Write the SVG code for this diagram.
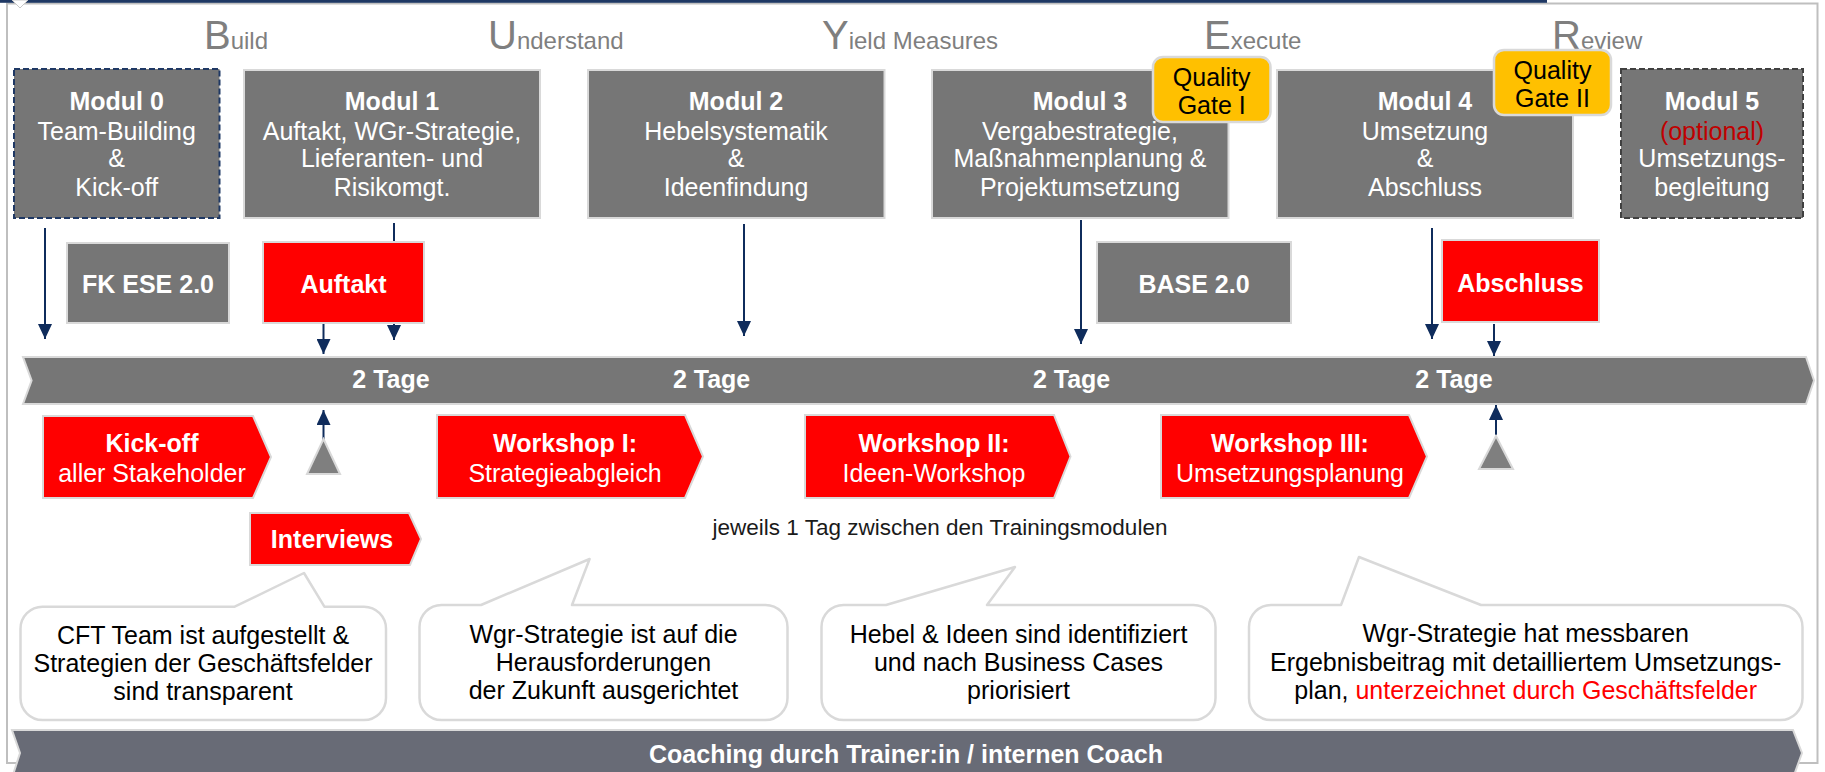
<svg xmlns="http://www.w3.org/2000/svg" width="1825" height="772" viewBox="0 0 1825 772">
  <defs>
    <style>
      text { font-family: "Liberation Sans", Arial, sans-serif; }
      .phase { font-size: 24px; fill: #7f7f7f; }
      .phase .cap { font-size: 40px; }
      .box { fill: #767676; stroke: #d9d9d9; stroke-width: 2; }
      .box-dash-navy { fill: #767676; stroke: #1f3864; stroke-width: 2; stroke-dasharray: 6 3; }
      .box-dash-dark { fill: #767676; stroke: #404040; stroke-width: 2; stroke-dasharray: 6 3; }
      .red { fill: #ff0000; stroke: #d9d9d9; stroke-width: 2; }
      .gate { fill: #ffc000; stroke: #d9d9d9; stroke-width: 2.5; }
      .bubble { fill: #ffffff; stroke: #d9d9d9; stroke-width: 2.5; stroke-linejoin: round; }
      .band { fill: #767676; stroke: #d9d9d9; stroke-width: 2; }
      .coach { fill: #686b76; stroke: #d9d9d9; stroke-width: 2; }
      .tri { fill: #7f7f7f; stroke: #d9d9d9; stroke-width: 2; }
      .wt { fill: #ffffff; font-size: 25px; text-anchor: middle; }
      .bt { fill: #000000; font-size: 25px; text-anchor: middle; }
      .b { font-weight: bold; }
      .opt { fill: #c00000; }
      .hl { fill: #ff0000; }
      .conn { stroke: #0f2c5c; stroke-width: 2; fill: none; marker-end: url(#head); }
    </style>
    <marker id="head" viewBox="0 0 15 14" refX="15" refY="7" markerWidth="15" markerHeight="14" markerUnits="userSpaceOnUse" orient="auto">
      <path d="M0,0 L15,7 L0,14 Z" fill="#0f2c5c"/>
    </marker>
  </defs>

  <rect width="1825" height="772" fill="#ffffff"/>

  <!-- frame -->
  <g id="frame">
    <rect x="7" y="3.5" width="1810.5" height="759.5" fill="none" stroke="#bfbfbf" stroke-width="2"/>
    <rect x="0" y="0" width="1547" height="2.8" fill="#1f3864"/>
    <path d="M12,0 L20,8 L28,0 Z" fill="#ffffff" stroke="#c8c8c8" stroke-width="1"/>
  </g>

  <!-- phase headings -->
  <g id="phases">
    <text class="phase" x="204" y="49"><tspan class="cap">B</tspan>uild</text>
    <text class="phase" x="488" y="49"><tspan class="cap">U</tspan>nderstand</text>
    <text class="phase" x="822" y="49"><tspan class="cap">Y</tspan>ield Measures</text>
    <text class="phase" x="1204" y="49"><tspan class="cap">E</tspan>xecute</text>
    <text class="phase" x="1552" y="49"><tspan class="cap">R</tspan>eview</text>
  </g>

  <!-- connectors -->
  <g id="connectors">
    <line class="conn" x1="45" y1="228" x2="45" y2="339"/>
    <line class="conn" x1="394" y1="223" x2="394" y2="340"/>
    <line class="conn" x1="744" y1="224" x2="744" y2="336"/>
    <line class="conn" x1="1081" y1="220" x2="1081" y2="344"/>
    <line class="conn" x1="1432" y1="228" x2="1432" y2="339"/>
    <line class="conn" x1="323.5" y1="323" x2="323.5" y2="354"/>
    <line class="conn" x1="1494" y1="324" x2="1494" y2="356"/>
    <line class="conn" x1="323.5" y1="440" x2="323.5" y2="410"/>
    <line class="conn" x1="1496" y1="435" x2="1496" y2="405"/>
  </g>

  <!-- modules -->
  <g id="modul0">
    <rect class="box-dash-navy" x="14" y="69" width="205.5" height="149"/>
    <text class="wt" x="116.7"><tspan class="b" x="116.7" y="110">Modul 0</tspan><tspan x="116.7" y="140">Team-Building</tspan><tspan x="116.7" y="167">&amp;</tspan><tspan x="116.7" y="196">Kick-off</tspan></text>
  </g>
  <g id="modul1">
    <rect class="box" x="244" y="70" width="296" height="148"/>
    <text class="wt" x="392"><tspan class="b" x="392" y="110">Modul 1</tspan><tspan x="392" y="140">Auftakt, WGr-Strategie,</tspan><tspan x="392" y="167">Lieferanten- und</tspan><tspan x="392" y="196">Risikomgt.</tspan></text>
  </g>
  <g id="modul2">
    <rect class="box" x="588" y="70" width="296.5" height="148"/>
    <text class="wt" x="736"><tspan class="b" x="736" y="110">Modul 2</tspan><tspan x="736" y="140">Hebelsystematik</tspan><tspan x="736" y="167">&amp;</tspan><tspan x="736" y="196">Ideenfindung</tspan></text>
  </g>
  <g id="modul3">
    <rect class="box" x="932" y="70" width="296.5" height="148"/>
    <text class="wt" x="1080"><tspan class="b" x="1080" y="110">Modul 3</tspan><tspan x="1080" y="140">Vergabestrategie,</tspan><tspan x="1080" y="167">Maßnahmenplanung &amp;</tspan><tspan x="1080" y="196">Projektumsetzung</tspan></text>
  </g>
  <g id="modul4">
    <rect class="box" x="1277" y="70" width="296" height="148"/>
    <text class="wt" x="1425"><tspan class="b" x="1425" y="110">Modul 4</tspan><tspan x="1425" y="140">Umsetzung</tspan><tspan x="1425" y="167">&amp;</tspan><tspan x="1425" y="196">Abschluss</tspan></text>
  </g>
  <g id="modul5">
    <rect class="box-dash-dark" x="1621" y="69" width="182" height="149"/>
    <text class="wt" x="1712"><tspan class="b" x="1712" y="110">Modul 5</tspan><tspan class="opt" x="1712" y="140">(optional)</tspan><tspan x="1712" y="167">Umsetzungs-</tspan><tspan x="1712" y="196">begleitung</tspan></text>
  </g>

  <!-- quality gates -->
  <g id="quality-gate-1">
    <rect class="gate" x="1153" y="57" width="117.5" height="65" rx="10"/>
    <text class="bt"><tspan x="1211.7" y="86">Quality</tspan><tspan x="1211.7" y="114">Gate I</tspan></text>
  </g>
  <g id="quality-gate-2">
    <rect class="gate" x="1494" y="50" width="117" height="65" rx="10"/>
    <text class="bt"><tspan x="1552.5" y="79">Quality</tspan><tspan x="1552.5" y="107">Gate II</tspan></text>
  </g>

  <!-- trainings and milestones above the timeline -->
  <g id="fk-ese">
    <rect class="box" x="67" y="243" width="162" height="80"/>
    <text class="wt b" x="148" y="293">FK ESE 2.0</text>
  </g>
  <g id="auftakt">
    <rect class="red" x="263" y="242" width="161" height="81"/>
    <text class="wt b" x="343.5" y="293">Auftakt</text>
  </g>
  <g id="base">
    <rect class="box" x="1097" y="242" width="194" height="81"/>
    <text class="wt b" x="1194" y="293">BASE 2.0</text>
  </g>
  <g id="abschluss">
    <rect class="red" x="1442" y="240" width="157" height="82"/>
    <text class="wt b" x="1520.5" y="292">Abschluss</text>
  </g>

  <!-- timeline -->
  <g id="timeline">
    <path class="band" d="M23,357 L1806,357 L1814,380.5 L1806,404 L23,404 L31.6,380.5 Z"/>
    <text class="wt b" x="391" y="388">2 Tage</text>
    <text class="wt b" x="711.6" y="388">2 Tage</text>
    <text class="wt b" x="1071.6" y="388">2 Tage</text>
    <text class="wt b" x="1454" y="388">2 Tage</text>
  </g>

  <!-- workshops -->
  <g id="kickoff">
    <path class="red" d="M43,416 L253,416 L271,457 L253,498 L43,498 Z"/>
    <text class="wt"><tspan class="b" x="152" y="452">Kick-off</tspan><tspan x="152" y="482">aller Stakeholder</tspan></text>
  </g>
  <g id="milestone-1">
    <path class="tri" d="M323.5,439 L340,474 L307,474 Z"/>
  </g>
  <g id="workshop-1">
    <path class="red" d="M437,415 L685,415 L703,456.5 L685,498 L437,498 Z"/>
    <text class="wt"><tspan class="b" x="565" y="452">Workshop I:</tspan><tspan x="565" y="482">Strategieabgleich</tspan></text>
  </g>
  <g id="workshop-2">
    <path class="red" d="M805,415 L1054,415 L1070.5,456.5 L1054,498 L805,498 Z"/>
    <text class="wt"><tspan class="b" x="934" y="452">Workshop II:</tspan><tspan x="934" y="482">Ideen-Workshop</tspan></text>
  </g>
  <g id="workshop-3">
    <path class="red" d="M1161,415 L1409,415 L1427,456.5 L1409,498 L1161,498 Z"/>
    <text class="wt"><tspan class="b" x="1290" y="452">Workshop III:</tspan><tspan x="1290" y="482">Umsetzungsplanung</tspan></text>
  </g>
  <g id="milestone-2">
    <path class="tri" d="M1496,436 L1513,469 L1479,469 Z"/>
  </g>
  <g id="interviews">
    <path class="red" d="M250,513 L409,513 L421,539 L410,565 L250,565 Z"/>
    <text class="wt b" x="332" y="548">Interviews</text>
  </g>
  <g id="note">
    <text x="940" y="535" font-size="22.5" fill="#1a1a1a" text-anchor="middle">jeweils 1 Tag zwischen den Trainingsmodulen</text>
  </g>

  <!-- results -->
  <g id="result-1">
    <path class="bubble" d="M42.5,606.7 L234.7,606.7 L304,573 L324.4,606.7 L364,606.7 A22,22 0 0 1 386,628.7 L386,698 A22,22 0 0 1 364,720 L42.5,720 A22,22 0 0 1 20.5,698 L20.5,628.7 A22,22 0 0 1 42.5,606.7 Z"/>
    <text class="bt"><tspan x="203" y="644">CFT Team ist aufgestellt &amp;</tspan><tspan x="203" y="672">Strategien der Geschäftsfelder</tspan><tspan x="203" y="700">sind transparent</tspan></text>
  </g>
  <g id="result-2">
    <path class="bubble" d="M441.5,605 L481,605 L589.6,559 L572,605 L765.5,605 A22,22 0 0 1 787.5,627 L787.5,698 A22,22 0 0 1 765.5,720 L441.5,720 A22,22 0 0 1 419.5,698 L419.5,627 A22,22 0 0 1 441.5,605 Z"/>
    <text class="bt"><tspan x="603.5" y="643">Wgr-Strategie ist auf die</tspan><tspan x="603.5" y="671">Herausforderungen</tspan><tspan x="603.5" y="699">der Zukunft ausgerichtet</tspan></text>
  </g>
  <g id="result-3">
    <path class="bubble" d="M843.5,605 L886,605 L1015,567 L987,605 L1193.5,605 A22,22 0 0 1 1215.5,627 L1215.5,698 A22,22 0 0 1 1193.5,720 L843.5,720 A22,22 0 0 1 821.5,698 L821.5,627 A22,22 0 0 1 843.5,605 Z"/>
    <text class="bt"><tspan x="1018.5" y="643">Hebel &amp; Ideen sind identifiziert</tspan><tspan x="1018.5" y="671">und nach Business Cases</tspan><tspan x="1018.5" y="699">priorisiert</tspan></text>
  </g>
  <g id="result-4">
    <path class="bubble" d="M1271,605 L1341,605 L1359,557 L1481,605 L1780.5,605 A22,22 0 0 1 1802.5,627 L1802.5,698 A22,22 0 0 1 1780.5,720 L1271,720 A22,22 0 0 1 1249,698 L1249,627 A22,22 0 0 1 1271,605 Z"/>
    <text class="bt"><tspan x="1525.7" y="642">Wgr-Strategie hat messbaren</tspan><tspan x="1525.7" y="671">Ergebnisbeitrag mit detailliertem Umsetzungs-</tspan><tspan x="1525.7" y="699">plan, <tspan class="hl">unterzeichnet durch Geschäftsfelder</tspan></tspan></text>
  </g>

  <!-- coaching band -->
  <g id="coaching">
    <path class="coach" d="M12,730 L1793,730 L1802,753 L1793,778 L12,778 L20,753 Z"/>
    <text class="wt b" x="906" y="763">Coaching durch Trainer:in / internen Coach</text>
  </g>
</svg>
